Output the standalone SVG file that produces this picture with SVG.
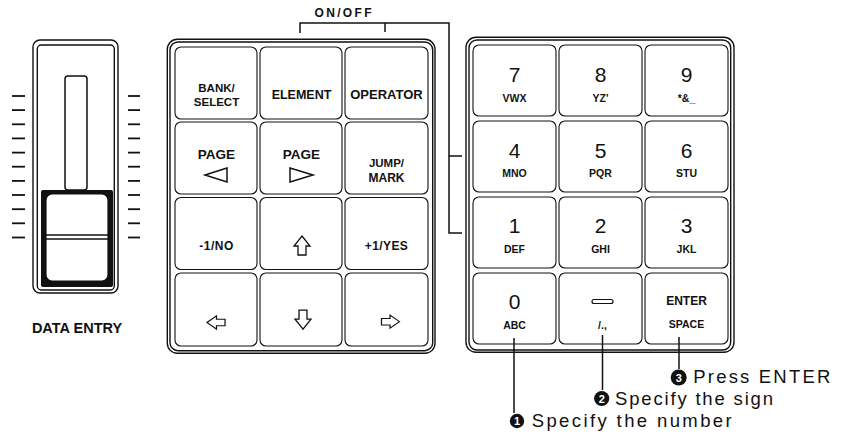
<svg xmlns="http://www.w3.org/2000/svg" width="843" height="433" viewBox="0 0 843 433">
<style>
.frame{fill:none;stroke:#111;stroke-width:1.4}
.key{fill:#fff;stroke:#111;stroke-width:1.1}
.ln{fill:none;stroke:#111;stroke-width:1.5}
.tick{stroke:#111;stroke-width:1.8}
.lbl{font-family:"Liberation Sans",Arial,sans-serif;font-weight:bold;text-anchor:middle;fill:#111}
.dig{font-family:"Liberation Sans",Arial,sans-serif;font-size:21px;text-anchor:middle;fill:#111}
.sub{font-family:"Liberation Sans",Arial,sans-serif;font-weight:bold;font-size:10.5px;text-anchor:middle;fill:#111}
.note{font-family:"Liberation Sans",Arial,sans-serif;font-size:18.5px;fill:#111}
.num{font-family:"Liberation Sans",Arial,sans-serif;font-weight:bold;font-size:11px;text-anchor:middle;fill:#fff}
.arrow{fill:#fff;stroke:#111;stroke-width:1.3;stroke-linejoin:miter}
</style>
<defs>
<path id="arr" d="M0,-9.5 L8,0.5 L4,0.5 L4,9.5 L-4,9.5 L-4,0.5 L-8,0.5 Z"/>
</defs>

<!-- DATA ENTRY slider -->
<g id="slider">
<rect class="frame" x="33" y="40" width="85" height="253" rx="7"/>
<rect class="frame" x="37.3" y="45" width="77" height="245" rx="4"/>
<rect class="ln" x="65" y="76" width="22" height="114" rx="3"/>
<rect x="41" y="190" width="72" height="97" rx="2" fill="#111"/>
<rect x="46" y="194" width="62" height="87" rx="6" fill="#fff" stroke="#111" stroke-width="1.2"/>
<line class="ln" x1="46" y1="235" x2="108" y2="235"/>
<line class="ln" x1="46" y1="239" x2="108" y2="239"/>
<g>
<line class="tick" x1="12" y1="96" x2="25" y2="96"/><line class="tick" x1="128" y1="96" x2="140" y2="96"/>
<line class="tick" x1="12" y1="110.1" x2="25" y2="110.1"/><line class="tick" x1="128" y1="110.1" x2="140" y2="110.1"/>
<line class="tick" x1="12" y1="124.3" x2="25" y2="124.3"/><line class="tick" x1="128" y1="124.3" x2="140" y2="124.3"/>
<line class="tick" x1="12" y1="138.4" x2="25" y2="138.4"/><line class="tick" x1="128" y1="138.4" x2="140" y2="138.4"/>
<line class="tick" x1="12" y1="152.6" x2="25" y2="152.6"/><line class="tick" x1="128" y1="152.6" x2="140" y2="152.6"/>
<line class="tick" x1="12" y1="166.7" x2="25" y2="166.7"/><line class="tick" x1="128" y1="166.7" x2="140" y2="166.7"/>
<line class="tick" x1="12" y1="180.9" x2="25" y2="180.9"/><line class="tick" x1="128" y1="180.9" x2="140" y2="180.9"/>
<line class="tick" x1="12" y1="195" x2="25" y2="195"/><line class="tick" x1="128" y1="195" x2="140" y2="195"/>
<line class="tick" x1="12" y1="209.2" x2="25" y2="209.2"/><line class="tick" x1="128" y1="209.2" x2="140" y2="209.2"/>
<line class="tick" x1="12" y1="223.3" x2="25" y2="223.3"/><line class="tick" x1="128" y1="223.3" x2="140" y2="223.3"/>
<line class="tick" x1="12" y1="237.5" x2="25" y2="237.5"/><line class="tick" x1="128" y1="237.5" x2="140" y2="237.5"/>
</g>
<text class="lbl" x="77" y="333" font-size="14.5">DATA ENTRY</text>
</g>

<!-- Left keypad -->
<g id="left-pad">
<rect class="frame" x="167.3" y="39.3" width="267.7" height="314" rx="10"/>
<rect class="frame" x="170" y="42" width="262.7" height="308.7" rx="8"/>
</g>
<g id="key-bank"><rect class="key" x="175" y="47" width="82" height="72" rx="6"/>
<text class="lbl" x="216.5" y="91.7" font-size="11.5">BANK/</text><text class="lbl" x="216.5" y="106" font-size="11.5">SELECT</text></g>
<g id="key-element"><rect class="key" x="260" y="47" width="82" height="72" rx="6"/>
<text class="lbl" x="301.5" y="99" font-size="12.5">ELEMENT</text></g>
<g id="key-operator"><rect class="key" x="345" y="47" width="83" height="72" rx="6"/>
<text class="lbl" x="386.5" y="99" font-size="13">OPERATOR</text></g>
<g id="key-page-left"><rect class="key" x="175" y="122" width="82" height="72" rx="6"/>
<text class="lbl" x="216.5" y="159" font-size="13.5">PAGE</text>
<path class="ln" d="M227,168 L205,175 L227,182 Z" stroke-width="1.2"/></g>
<g id="key-page-right"><rect class="key" x="260" y="122" width="82" height="72" rx="6"/>
<text class="lbl" x="301.5" y="159" font-size="13.5">PAGE</text>
<path class="ln" d="M290,168 L313,175 L290,182 Z" stroke-width="1.2"/></g>
<g id="key-jump"><rect class="key" x="345" y="122" width="83" height="72" rx="6"/>
<text class="lbl" x="386.5" y="166.7" font-size="11.5">JUMP/</text><text class="lbl" x="386.5" y="182" font-size="12">MARK</text></g>
<g id="key-no"><rect class="key" x="175" y="197.5" width="82" height="72" rx="6"/>
<text class="lbl" x="216.5" y="250" font-size="12" letter-spacing="0.5">-1/NO</text></g>
<g id="key-up"><rect class="key" x="260" y="197.5" width="82" height="72" rx="6"/>
<use href="#arr" class="arrow" transform="translate(302,245.5)"/></g>
<g id="key-yes"><rect class="key" x="345" y="197.5" width="83" height="72" rx="6"/>
<text class="lbl" x="386.5" y="250" font-size="12" letter-spacing="0.4">+1/YES</text></g>
<g id="key-left"><rect class="key" x="175" y="273" width="82" height="73" rx="6"/>
<use href="#arr" class="arrow" transform="translate(216,322.5) rotate(-90) scale(0.82,0.95)"/></g>
<g id="key-down"><rect class="key" x="260" y="273" width="82" height="73" rx="6"/>
<use href="#arr" class="arrow" transform="translate(303,319.7) rotate(180)"/></g>
<g id="key-right"><rect class="key" x="345" y="273" width="83" height="73" rx="6"/>
<use href="#arr" class="arrow" transform="translate(390.5,321.7) rotate(90) scale(0.82,0.95)"/></g>

<!-- Right keypad -->
<g id="right-pad">
<rect class="frame" x="466" y="37.3" width="268" height="315" rx="10"/>
<rect class="frame" x="469" y="40" width="261.7" height="310" rx="8"/>
</g>
<g id="key-7"><rect class="key" x="473" y="45" width="83" height="71" rx="6"/><text class="dig" x="514.5" y="82">7</text><text class="sub" x="514.5" y="102">VWX</text></g>
<g id="key-8"><rect class="key" x="559" y="45" width="83" height="71" rx="6"/><text class="dig" x="600.5" y="82">8</text><text class="sub" x="600.5" y="102">YZ'</text></g>
<g id="key-9"><rect class="key" x="645" y="45" width="83" height="71" rx="6"/><text class="dig" x="686.5" y="82">9</text><text class="sub" x="686.5" y="102">*&amp;_</text></g>
<g id="key-4"><rect class="key" x="473" y="121" width="83" height="71" rx="6"/><text class="dig" x="514.5" y="158">4</text><text class="sub" x="514.5" y="177">MNO</text></g>
<g id="key-5"><rect class="key" x="559" y="121" width="83" height="71" rx="6"/><text class="dig" x="600.5" y="158">5</text><text class="sub" x="600.5" y="177">PQR</text></g>
<g id="key-6"><rect class="key" x="645" y="121" width="83" height="71" rx="6"/><text class="dig" x="686.5" y="158">6</text><text class="sub" x="686.5" y="177">STU</text></g>
<g id="key-1"><rect class="key" x="473" y="197" width="83" height="71" rx="6"/><text class="dig" x="514.5" y="233">1</text><text class="sub" x="514.5" y="253">DEF</text></g>
<g id="key-2"><rect class="key" x="559" y="197" width="83" height="71" rx="6"/><text class="dig" x="600.5" y="233">2</text><text class="sub" x="600.5" y="253">GHI</text></g>
<g id="key-3"><rect class="key" x="645" y="197" width="83" height="71" rx="6"/><text class="dig" x="686.5" y="233">3</text><text class="sub" x="686.5" y="253">JKL</text></g>
<g id="key-0"><rect class="key" x="473" y="273" width="83" height="71" rx="6"/><text class="dig" x="514.5" y="309">0</text><text class="sub" x="514.5" y="329">ABC</text></g>
<g id="key-minus"><rect class="key" x="559" y="273" width="83" height="71" rx="6"/><rect x="592" y="299.5" width="21" height="4" rx="2" fill="none" stroke="#111" stroke-width="1.2"/><text class="sub" x="602.5" y="329">/.,</text></g>
<g id="key-enter"><rect class="key" x="645" y="273" width="83" height="71" rx="6"/><text class="lbl" x="686.5" y="305" font-size="12">ENTER</text><text class="sub" x="686.5" y="328" font-size="10">SPACE</text></g>

<!-- Connectors -->
<g id="connectors">
<path class="ln" d="M300,33 L300,23 L449,23 L449,233 L462,233"/>
<line class="ln" x1="385" y1="23" x2="385" y2="32"/>
<line class="ln" x1="449" y1="156" x2="462" y2="156"/>
<line class="ln" x1="514" y1="338" x2="514" y2="413"/>
<line class="ln" x1="602.5" y1="335" x2="602.5" y2="390"/>
<line class="ln" x1="679" y1="337" x2="679" y2="369"/>
</g>

<!-- Labels -->
<g id="onoff-label"><text class="lbl" x="343" y="17.3" font-size="12" textLength="57" lengthAdjust="spacing">ON/OFF</text></g>
<g id="step3"><circle cx="678.7" cy="377.5" r="8" fill="#111"/><text class="num" x="678.7" y="381.5">3</text>
<text class="note" x="693.3" y="383.3" textLength="137" lengthAdjust="spacing">Press ENTER</text></g>
<g id="step2"><circle cx="601.7" cy="398.5" r="7.6" fill="#111"/><text class="num" x="601.7" y="402.5">2</text>
<text class="note" x="615" y="405" textLength="158" lengthAdjust="spacing">Specify the sign</text></g>
<g id="step1"><circle cx="517" cy="421" r="7.2" fill="#111"/><text class="num" x="517" y="425">1</text>
<text class="note" x="531.7" y="427.3" textLength="200" lengthAdjust="spacing">Specify the number</text></g>
</svg>
